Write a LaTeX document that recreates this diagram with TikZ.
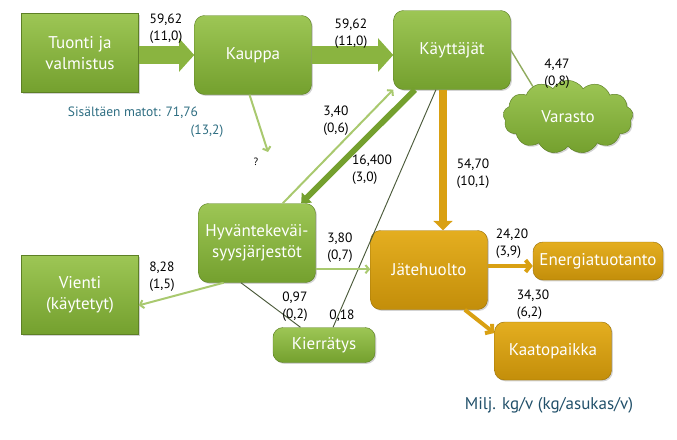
\documentclass[tikz,border=0pt]{standalone}
\usepackage{fontspec}
\setmainfont{PT Sans}
\usepackage{xcolor}
\usetikzlibrary{arrows.meta,shapes.symbols,shadows}

\definecolor{vihrea}{HTML}{8AB440}
\definecolor{vihreayla}{HTML}{9DC655}
\definecolor{vihreaala}{HTML}{74A02E}
\definecolor{oranssi}{HTML}{D9A012}
\definecolor{oranssiyla}{HTML}{E4AE20}
\definecolor{oranssiala}{HTML}{C38E0A}
\definecolor{vaalea}{HTML}{A9C96F}
\definecolor{tumma}{HTML}{4B5A3A}
\definecolor{sinivihrea}{HTML}{2F6E82}
\definecolor{tummasini}{HTML}{21506A}

\begin{document}
\begin{tikzpicture}[x=0.03cm, y=-0.03cm,
    laatikko/.style={rounded corners=0.3cm, top color=vihreayla, bottom color=vihreaala,
        draw=vihreaala!80!black, line width=0.4pt, text=white, align=center,
        font=\fontsize{14.5}{17.5}\selectfont, inner sep=2pt,
        minimum width=3.51cm, minimum height=2.37cm,
        drop shadow={opacity=0.35, shadow xshift=1.2pt, shadow yshift=-1.2pt}},
    suora/.style={laatikko, rounded corners=0pt},
    oranssilaatikko/.style={laatikko, top color=oranssiyla, bottom color=oranssiala,
        draw=oranssiala!80!black},
    isonuoli/.style={draw=vihrea, line width=15pt, -{Triangle[length=13pt,width=28pt]}},
    keskinuoli/.style={draw=vihreaala, line width=5pt, -{Triangle[length=7pt,width=12pt]}},
    ohutnuoli/.style={draw=vaalea, line width=1.7pt, -{Straight Barb[length=3pt,width=7pt]}},
    oranssinuoli/.style={draw=oranssi, line width=3.4pt, -{Straight Barb[length=4pt,width=10pt]}},
    viiva/.style={draw=tumma, line width=0.8pt},
    luku/.style={font=\fontsize{11.5}{14.5}\selectfont, align=left, inner sep=0pt}]

    \useasboundingbox (0,0) rectangle (677,439);

    % laatikot
    \node[suora] (tuonti) at (80,53) {Tuonti ja\\valmistus};
    \node[laatikko] (kauppa) at (253,55) {Kauppa};
    \node[laatikko] (kayttajat) at (452,50) {Käyttäjät};
    \node[cloud, cloud puffs=13, cloud puff arc=115, aspect=1.75,
        top color=vihreayla, bottom color=vihreaala, draw=vihreaala!80!black,
        text=white, font=\fontsize{14.5}{17.5}\selectfont,
        minimum width=3.9cm, minimum height=2.2cm, inner sep=0pt,
        drop shadow={opacity=0.35, shadow xshift=1.2pt, shadow yshift=-1.2pt}] (varasto) at (568,117) {Varasto};
    \node[laatikko] (hyvant) at (257,243) {Hyväntekeväi-\\syysjärjestöt};
    \node[suora] (vienti) at (80,295) {Vienti\\(käytetyt)};
    \node[laatikko, minimum width=3.06cm, minimum height=1.05cm] (kierratys) at (324,345) {Kierrätys};
    \node[oranssilaatikko] (jatehuolto) at (429,270) {Jätehuolto};
    \node[oranssilaatikko, minimum width=3.9cm, minimum height=1.14cm] (energia) at (598,261) {Energiatuotanto};
    \node[oranssilaatikko, minimum height=1.74cm] (kaato) at (553,351) {Kaatopaikka};

    \node[text=black, font=\fontsize{9}{10}\selectfont] (kysymys) at (256,162) {?};
    \coordinate (kysymysnuoli) at (268,152);

    % nuolet
    \draw[isonuoli] (tuonti.east |- kauppa.west) -- (kauppa.west);
    \draw[isonuoli] (kauppa.east) -- (kauppa.east -| kayttajat.west);
    \draw[ohutnuoli] (kauppa.265) -- (kysymysnuoli);
    \draw[ohutnuoli] (hyvant.57) -- (kayttajat.214);
    \draw[keskinuoli] (kayttajat.227) -- (hyvant.42);
    \draw[viiva] (kayttajat.248) -- (kierratys.63);
    \draw[draw=oranssi, line width=6.8pt, -{Triangle[length=8pt,width=16pt]}]
        ([xshift=-0.27cm]kayttajat.south) -- ([xshift=-0.27cm]kayttajat.south |- jatehuolto.north);
    \draw[draw=vaalea!85!black, line width=1.2pt] (kayttajat.east) -- (varasto.139);
    \draw[ohutnuoli] (hyvant.230) -- (vienti.-10);
    \draw[ohutnuoli] (hyvant.-24) -- (hyvant.-24 -| jatehuolto.west);
    \draw[viiva] (hyvant.248) -- (kierratys.143);
    \draw[oranssinuoli] ([yshift=0.12cm]jatehuolto.east) -- ([yshift=0.12cm]jatehuolto.east -| energia.west);
    \draw[oranssinuoli] (jatehuolto.-48) -- (kaato.163);

    % luvut
    \node[luku] (l1) at (166,29) {59,62\\(11,0)};
    \node[luku] (l2) at (351,34) {59,62\\(11,0)};
    \node[luku] (l3) at (557,74) {4,47\\(0,8)};
    \node[luku] (l4) at (336,121) {3,40\\(0,6)};
    \node[luku] (l5) at (372,170) {16,400\\(3,0)};
    \node[luku, align=center] (l6) at (473,174) {54,70\\(10,1)};
    \node[luku] (l7) at (162,277) {8,28\\(1,5)};
    \node[luku] (l8) at (340,248) {3,80\\(0,7)};
    \node[luku] (l9) at (295,307) {0,97\\(0,2)};
    \node[luku] (l10) at (342,316) {0,18};
    \node[luku] (l11) at (512,244) {24,20\\(3,9)};
    \node[luku] (l12) at (533,305) {34,30\\(6,2)};

    \node[luku, text=sinivihrea] (matot) at (133,113) {Sisältäen matot: 71,76};
    \node[luku, text=sinivihrea] (matot2) at (207,131) {(13,2)};
    \node[text=tummasini, font=\fontsize{14.5}{17}\selectfont, inner sep=0pt] (yksikko) at (549,405) {Milj. kg/v (kg/asukas/v)};
\end{tikzpicture}
\end{document}
